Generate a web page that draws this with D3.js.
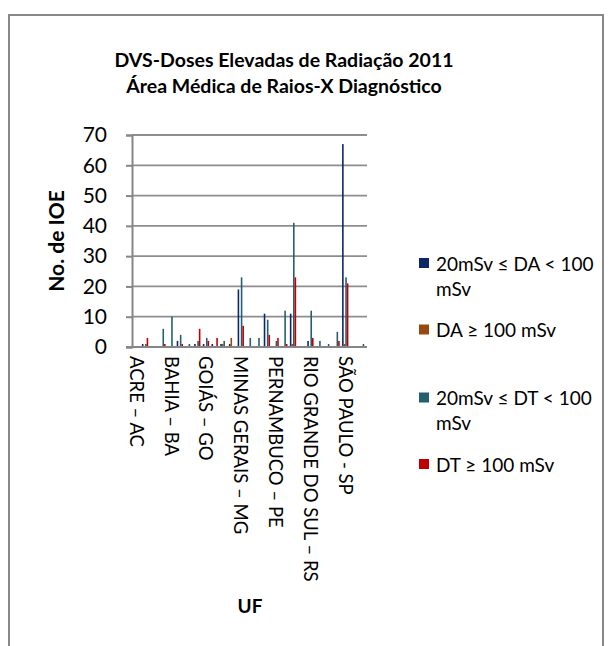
<!DOCTYPE html>
<html><head><meta charset="utf-8">
<script src="https://cdn.jsdelivr.net/npm/d3@7"></script>
<style>
body{margin:0;background:#fff}
svg{display:block}
text{font-family:Lato,"Open Sans",sans-serif;fill:#000}
</style>
</head><body>
<svg id="chart" width="612" height="646"></svg>
<script>
// ---- data ----
const categories = ["ACRE – AC","ALAGOAS – AL","AMAPÁ – AP","AMAZONAS – AM","BAHIA – BA","CEARÁ – CE","DISTRITO FEDERAL – DF","ESPÍRITO SANTO – ES","GOIÁS – GO","MARANHÃO – MA","MATO GROSSO – MT","MATO GROSSO DO SUL – MS","MINAS GERAIS – MG","PARÁ – PA","PARAÍBA – PB","PARANÁ – PR","PERNAMBUCO – PE","PIAUÍ – PI","RIO DE JANEIRO – RJ","RIO GRANDE DO NORTE – RN","RIO GRANDE DO SUL – RS","RONDÔNIA – RO","RORAIMA – RR","SANTA CATARINA – SC","SÃO PAULO - SP","SERGIPE – SE","TOCANTINS – TO"];
const daLow   = [0,1,0,0,0,2,0,1,1,1,1,1,19,0,0,11,0,0,11,0,2,0,0,0,67,0,0];
const daHigh  = [0,0,0,0,0,0,0,0,0,0,1,3,0,0,0,0,0,0,1,0,0,0,0,0,1,0,0];
const dtLow   = [0,1,0,6,10,4,1,2,3,0,2,0,23,3,3,9,2,12,41,0,12,2,1,5,23,0,1];
const dtHigh  = [0,3,0,1,0,1,0,6,2,3,0,0,7,0,0,4,3,1,23,0,3,0,0,2,21,0,0];
const seriesKeys = ["daLow","daHigh","dtLow","dtHigh"];
const seriesLabels = [["20mSv ≤ DA < 100","mSv"],["DA ≥ 100 mSv"],["20mSv ≤ DT < 100","mSv"],["DT ≥ 100 mSv"]];
const seriesColors = ["#0e2567","#984a0e","#245f6e","#c00000"];
const yTicks = [0,10,20,30,40,50,60,70];
const labelEvery = 4;
const titleLines = ["DVS-Doses Elevadas de Radiação 2011","Área Médica de Raios-X Diagnóstico"];
const yTitle = "No. de IOE";
const xTitle = "UF";

const seriesData = {daLow, daHigh, dtLow, dtHigh};

// ---- layout ----
const svg = d3.select("#chart");
const plot = {left:132, right:367, top:135, bottom:347};

// frame
svg.append("rect").attr("x",9).attr("y",15).attr("width",594).attr("height",660)
  .attr("fill","none").attr("stroke","#888").attr("stroke-width",2);

// title
svg.append("g").selectAll("text").data(titleLines).join("text")
  .attr("x",284).attr("y",(d,i)=>67+i*26)
  .attr("text-anchor","middle").attr("font-weight","bold").attr("font-size",19.5)
  .text(d=>d);

const x = d3.scaleBand().domain(categories).range([plot.left, plot.right]).paddingInner(0).paddingOuter(0);
const xi = d3.scaleBand().domain(seriesKeys).range([0, x.bandwidth()]).paddingInner(0).paddingOuter(0.75);
const y = d3.scaleLinear().domain([0,70]).range([plot.bottom, plot.top]);

// gridlines
svg.append("g").selectAll("line").data(yTicks.filter(t=>t>0)).join("line")
  .attr("x1",plot.left).attr("x2",plot.right)
  .attr("y1",d=>y(d)).attr("y2",d=>y(d))
  .attr("stroke","#8e8e8e").attr("stroke-width",1.8);

// bars
const groups = svg.append("g").selectAll("g").data(categories).join("g")
  .attr("transform",d=>`translate(${x(d)},0)`);
groups.selectAll("rect").data((d,i)=>seriesKeys.map((k,j)=>({k, j, v:seriesData[k][i]})).filter(e=>e.v>0))
  .join("rect")
  .attr("x",e=>xi(e.k)).attr("width",xi.bandwidth())
  .attr("y",e=>y(e.v)).attr("height",e=>y(0)-y(e.v))
  .attr("fill",e=>seriesColors[e.j]);

// y axis
const yAxis = d3.axisLeft(y).tickValues(yTicks).tickSize(6).tickPadding(19);
const gy = svg.append("g").attr("transform",`translate(${plot.left},0)`).call(yAxis);
gy.select(".domain").attr("stroke","#868686").attr("stroke-width",2);
gy.selectAll(".tick line").attr("stroke","#868686").attr("stroke-width",2);
gy.selectAll(".tick text").attr("font-size",21).attr("font-family","Lato").attr("fill","#000");

// x axis
const xAxis = d3.axisBottom(x).tickValues(categories.filter((c,i)=>i%labelEvery===0)).tickSize(0).tickPadding(0);
const gx = svg.append("g").attr("transform",`translate(0,${plot.bottom})`).call(xAxis);
gx.select(".domain").attr("stroke","#868686").attr("stroke-width",2).attr("d",`M${plot.left-6},0H${plot.right}`);
gx.selectAll(".tick text")
  .attr("font-size",18.5).attr("font-family","Lato").attr("fill","#000")
  .attr("text-anchor","start").attr("dy","0.35em")
  .attr("transform","translate(0,9) rotate(90)")
  .attr("x",0).attr("y",0);

// axis titles
svg.append("text").attr("transform","translate(55,241) rotate(-90)")
  .attr("text-anchor","middle").attr("dominant-baseline","central")
  .attr("font-weight","bold").attr("font-size",21).text(yTitle);
svg.append("text").attr("x",250).attr("y",605)
  .attr("text-anchor","middle").attr("dominant-baseline","central")
  .attr("font-weight","bold").attr("font-size",19).text(xTitle);

// legend
const legendY = [263,329.5,397.5,464];
const lg = svg.append("g").selectAll("g").data(seriesKeys).join("g")
  .attr("transform",(d,i)=>`translate(419,${legendY[i]})`);
lg.append("rect").attr("x",0).attr("y",-5).attr("width",10).attr("height",10)
  .attr("fill",(d,i)=>seriesColors[i]);
lg.each(function(d,i){
  d3.select(this).selectAll("text").data(seriesLabels[i]).join("text")
    .attr("x",17).attr("y",(t,k)=>k*25).attr("dominant-baseline","central")
    .attr("font-size",19).text(t=>t);
});
</script>
</body></html>
